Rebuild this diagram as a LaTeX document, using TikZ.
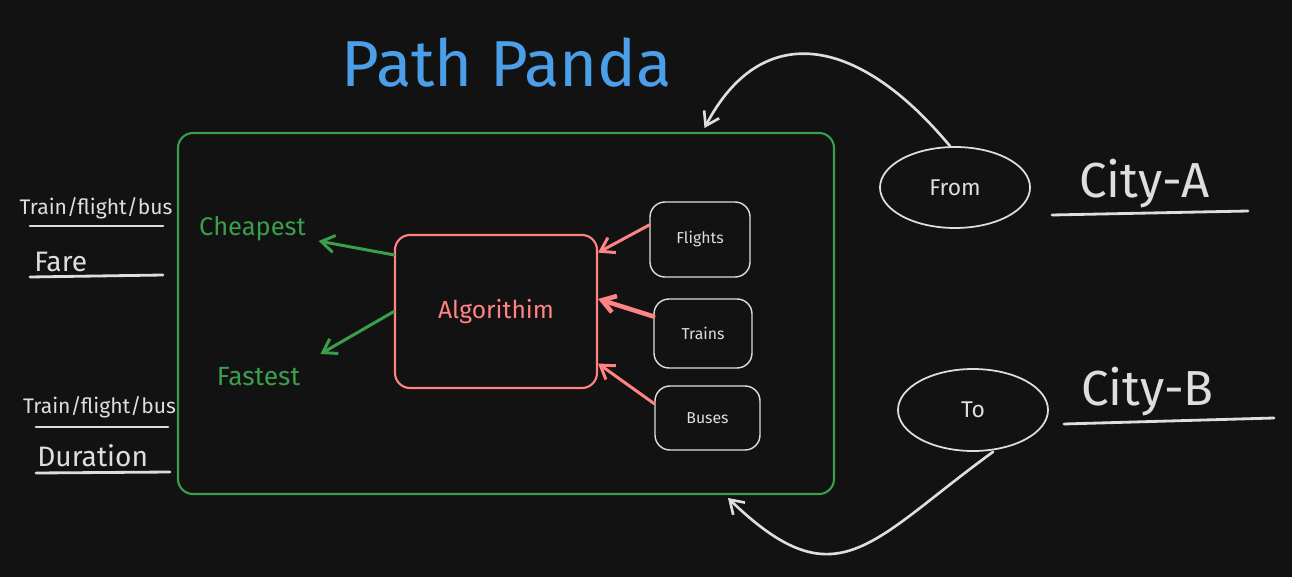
\documentclass[tikz,border=0pt]{standalone}
\usepackage{fontspec}
\setmainfont{Fira Sans}
\usepackage{xcolor}
\usepackage{tikz}
\usetikzlibrary{shapes,arrows.meta,calc}
\definecolor{bgdark}{HTML}{121212}
\definecolor{chalk}{HTML}{DEDEDE}
\definecolor{pgreen}{HTML}{3A9E4A}
\definecolor{pred}{HTML}{FF8383}
\definecolor{pblue}{HTML}{4A9FE8}
\newcommand{\fsz}[1]{\fontsize{#1}{#1}\selectfont}
\tikzstyle{arr}      =[-{Straight Barb[length=2.6mm,width=3.4mm]}, line width=1.7pt, line cap=round]
\tikzstyle{srcbox}   =[draw=chalk, line width=0.8pt, rounded corners=0.3cm, text=chalk, font=\fsz{9}]
\tikzstyle{endpoint} =[draw=chalk, ellipse, line width=1pt, minimum width=3.0cm, minimum height=1.62cm,
                       text=chalk, font=\fsz{13}]
\tikzstyle{uline}    =[draw=chalk, line width=1.6pt, line cap=round]

\begin{document}
\begin{tikzpicture}[every node/.style={inner sep=0.25cm}]

  % canvas
  \useasboundingbox (0,0) rectangle (25.84,11.54);
  \fill[bgdark] (0,0) rectangle (25.84,11.54);

  % title
  \node[anchor=base, text=pblue, font=\fsz{37}] (title) at (10.14, 9.80) {Path Panda};

  % blocks
  \node[draw=pgreen, line width=1.2pt, rounded corners=0.3cm, minimum width=13.12cm,
        minimum height=7.22cm] (core) at (10.12, 5.27) {};
  \node[draw=pred, line width=1.2pt, rounded corners=0.3cm, minimum width=4.04cm,
        minimum height=3.06cm, text=pred, font=\fsz{14}] (alg) at (9.92, 5.31) {Algorithim};
  \node[srcbox, minimum width=2.0cm, minimum height=1.5cm] (flights) at (14.0, 6.75) {Flights};
  \node[srcbox, minimum width=1.96cm, minimum height=1.38cm] (trains) at (14.06, 4.87) {Trains};
  \node[srcbox, minimum width=2.1cm, minimum height=1.28cm] (buses) at (14.15, 3.18) {Buses};

  % results
  \node[anchor=base, text=pgreen, font=\fsz{14.5}] (cheap) at (5.05, 6.84) {Cheapest};
  \node[anchor=base, text=pgreen, font=\fsz{15}] (fast) at (5.17, 3.84) {Fastest};

  % inputs into the algorithm
  \draw[arr, pred] (flights.164) -- (alg.30);
  \draw[arr, pred, line width=2.6pt] (trains.161) -- (alg.7);
  \draw[arr, pred] (buses.165) -- (alg.-27);

  % outputs
  \draw[arr, pgreen] (alg.151) -- ([yshift=-1.2mm]cheap.base east);
  \draw[arr, pgreen] (alg.west) -- ([xshift=1.5mm]fast.north east);

  % left notes
  \node[anchor=base, text=chalk, font=\fsz{12}] (mode1) at (1.92, 7.24) {Train/flight/bus};
  \node[anchor=base west, inner sep=0, text=chalk, font=\fsz{16}] (fare) at (0.68, 6.12) {Fare};
  \node[anchor=base, text=chalk, font=\fsz{12}] (mode2) at (1.99, 3.28) {Train/flight/bus};
  \node[anchor=base west, inner sep=0, text=chalk, font=\fsz{16}] (dur) at (0.74, 2.22) {Duration};
  \draw[uline] (0.60, 7.02) -- (3.26, 7.02);
  \draw[uline] (0.60, 6.00) -- (3.26, 6.04);
  \draw[uline] (0.72, 3.00) -- (3.36, 3.00);
  \draw[uline] (0.72, 2.08) -- (3.40, 2.10);

  % from / to
  \node[endpoint] (from) at (19.10, 7.79) {From};
  \node[endpoint, minimum height=1.64cm] (to) at (19.46, 3.34) {To};
  \node[anchor=base, text=chalk, font=\fsz{28}] (citya) at (22.89, 7.58) {City-A};
  \node[anchor=base, text=chalk, font=\fsz{28}] (cityb) at (22.95, 3.44) {City-B};
  \draw[uline] (21.04, 7.24) -- (24.96, 7.32);
  \draw[uline] (21.28, 3.06) -- (25.48, 3.18);

  % loops into the planner
  \coordinate (intop) at (14.09, 8.98);
  \coordinate (inbot) at (14.56, 1.58);
  \draw[arr, chalk, line width=1.5pt] ([xshift=-1mm]from.north) .. controls (17.1, 10.9) and (15.2, 11.1) .. (intop);
  \draw[arr, chalk, line width=1.5pt] ([xshift=4mm]to.south) to[out=216, in=-44, looseness=1.45] (inbot);

\end{tikzpicture}
\end{document}
